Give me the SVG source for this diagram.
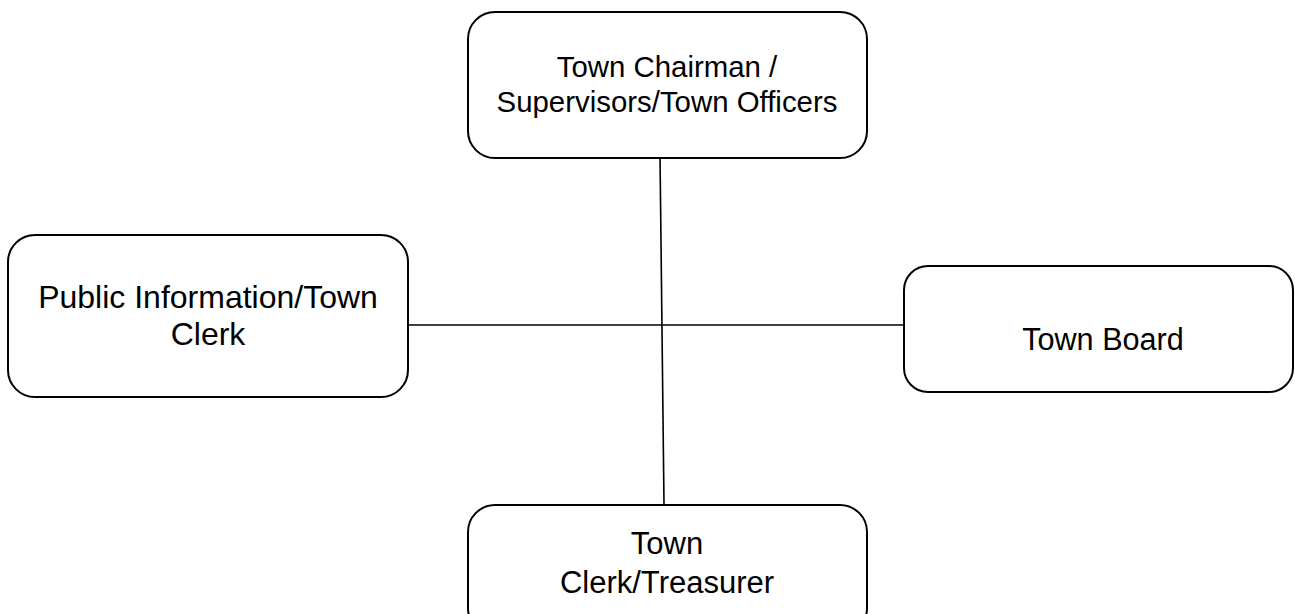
<svg xmlns="http://www.w3.org/2000/svg" width="1295" height="614" viewBox="0 0 1295 614">
<style>
.box{fill:#fff;stroke:#000;stroke-width:2}
.lbl{font-family:"Liberation Sans",Arial,sans-serif;fill:#000;text-anchor:middle}
.conn{stroke:#000;stroke-width:1.6;fill:none}
</style>
<rect width="1295" height="614" fill="#fff"/>
<g id="connectors">
<line class="conn" x1="660" y1="155" x2="664" y2="504"/>
<line class="conn" x1="408" y1="325" x2="904" y2="325"/>
</g>
<g id="node-chairman">
<rect class="box" x="468" y="12" width="399" height="146" rx="27"/>
<text class="lbl" font-size="29.4" x="667" y="77">Town Chairman /</text>
<text class="lbl" font-size="29.4" x="667" y="112">Supervisors/Town Officers</text>
</g>
<g id="node-public">
<rect class="box" x="8" y="235" width="400" height="162" rx="27"/>
<text class="lbl" font-size="32" x="208" y="308">Public Information/Town</text>
<text class="lbl" font-size="32" x="208" y="345">Clerk</text>
</g>
<g id="node-board">
<rect class="box" x="904" y="266" width="389" height="126" rx="24"/>
<text class="lbl" font-size="30.6" x="1103" y="350">Town Board</text>
</g>
<g id="node-treasurer">
<rect class="box" x="468" y="505" width="399" height="130" rx="27"/>
<text class="lbl" font-size="31" x="667" y="554">Town</text>
<text class="lbl" font-size="31" x="667" y="593">Clerk/Treasurer</text>
</g>
</svg>
